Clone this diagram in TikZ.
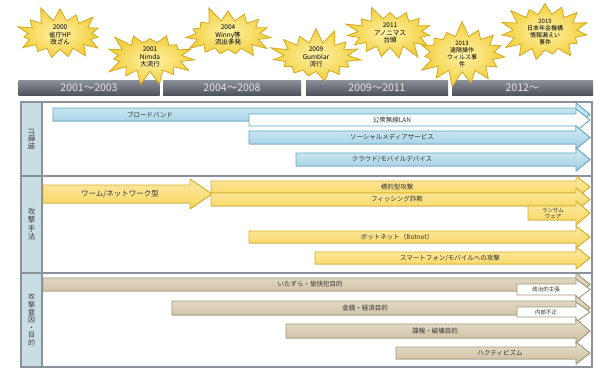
\documentclass[tikz,border=0pt]{standalone}
\usepackage{fontspec}
\setmainfont{Noto Sans CJK JP}
\usetikzlibrary{shapes.symbols}
\definecolor{frameg}{HTML}{8C929B}
\definecolor{lblcol}{HTML}{C9DDE5}
\definecolor{bluef}{HTML}{9FCEE2}
\definecolor{bluel}{HTML}{D4ECF5}
\definecolor{blued}{HTML}{5FA8C6}
\definecolor{yelf}{HTML}{F7D55C}
\definecolor{yell}{HTML}{FDEBA8}
\definecolor{yeld}{HTML}{D5AE25}
\definecolor{tanf}{HTML}{CBBE9F}
\definecolor{tanl}{HTML}{E8DFCC}
\definecolor{tand}{HTML}{A3967A}
\definecolor{bardark}{HTML}{4F535B}
\definecolor{barlight}{HTML}{8D9199}
\definecolor{starf}{HTML}{F3CF3F}
\definecolor{starl}{HTML}{FFF2A8}
\definecolor{stard}{HTML}{D2A91C}
\tikzset{
  bluearr/.style={draw=blued, line width=0.9pt, top color=bluel, bottom color=bluef},
  whitearr/.style={draw=blued, line width=0.9pt, fill=white},
  yelarr/.style={draw=yeld, line width=0.9pt, top color=yell, bottom color=yelf},
  tanarr/.style={draw=tand, line width=0.9pt, top color=tanl, bottom color=tanf},
  tanwhite/.style={draw=tand, line width=0.9pt, fill=white},
  lbl/.style={font=\fontsize{6.5}{7}\selectfont, text=black!80, inner sep=0pt},
  sublbl/.style={font=\fontsize{5.5}{6}\selectfont, text=black!80, inner sep=0pt, align=center},
  yearbar/.style={draw=none, top color=barlight, bottom color=bardark, minimum height=15pt, inner sep=0pt,
     text=white!90!black, font=\fontsize{10.5}{11}\selectfont},
  burst/.style={starburst, starburst points=15, starburst point height=16pt,
     minimum width=96pt, minimum height=56pt, inner sep=0pt,
     draw=stard, line width=0.8pt, inner color=starl, outer color=starf,
     align=center, font=\fontsize{6.5}{7.5}\selectfont, text=black},
  seclbl/.style={font=\fontsize{7.5}{8.5}\selectfont, text=black!75, align=center, inner sep=0pt}
}
% style, x1, ytop, ybot, name, label x, label
\newcommand\harr[7]{%
  \pgfmathsetmacro\ym{(#3+#4)/2}%
  \filldraw[#1] (#2,#3) -- (576,#3) -- (576,#3-5) -- (590,\ym) -- (576,#4+5) -- (576,#4) -- (#2,#4) -- cycle;
  \node[lbl] (#5) at (#6,\ym) {#7};%
}
\begin{document}
\begin{tikzpicture}[x=1pt,y=-1pt]
\useasboundingbox (0,0) rectangle (604,369);
\fill[white] (0,0) rectangle (604,369);

% year bars
\node[yearbar, minimum width=141pt] (y1) at (89,87.5) {2001〜2003};
\node[yearbar, minimum width=138pt] (y2) at (232,87.5) {2004〜2008};
\node[yearbar, minimum width=142pt] (y3) at (377,87.5) {2009〜2011};
\node[yearbar, minimum width=141pt] (y4) at (522.5,87.5) {2012〜};

% frame
\fill[lblcol] (21,102) rectangle (42,367);
\draw[frameg, line width=1.4pt] (21,102) rectangle (592,367);
\draw[frameg, line width=1.2pt] (42,102) -- (42,367);
\draw[frameg, line width=2pt] (21,176) -- (592,176);
\draw[frameg, line width=2pt] (21,273) -- (592,273);

\node[seclbl, rotate=-90] (s1) at (31.5,139) {IT環境};
\node[seclbl] (s2) at (31.5,224) {攻\\撃\\手\\法};
\node[seclbl, font=\fontsize{7}{7.6}\selectfont] (s3) at (31.5,320) {攻\\撃\\要\\因\\・\\目\\的};

% IT environment
\harr{bluearr}{53}{108}{121}{bb}{150}{ブロードバンド}
\harr{whitearr}{249}{114}{126}{wlan}{392}{公衆無線LAN}
\harr{bluearr}{249}{131}{144}{sns}{392}{ソーシャルメディアサービス}
\harr{bluearr}{296}{153}{166}{cloud}{392}{クラウド/モバイルデバイス}

% attack methods
\filldraw[yelarr] (43,185) -- (190,185) -- (190,179) -- (212,194) -- (190,209) -- (190,203) -- (43,203) -- cycle;
\node[lbl, font=\fontsize{7.5}{8}\selectfont] (worm) at (120,194) {ワーム/ネットワーク型};
\harr{yelarr}{211}{181}{193}{apt}{397}{標的型攻撃}
\harr{yelarr}{211}{193}{206}{phish}{397}{フィッシング詐欺}
\harr{yelarr}{528}{206}{220}{ransom}{553}{}
\node[sublbl] (ransomt) at (553,213) {ランサム\\ウェア};
\harr{yelarr}{249}{231}{243}{bot}{397}{ボットネット（Botnet）}
\harr{yelarr}{315}{252}{264}{smart}{450}{スマートフォン/モバイルへの攻撃}

% motives
\harr{tanarr}{43}{278}{291}{prank}{310}{いたずら・愉快犯目的}
\harr{tanwhite}{517}{284}{295}{pol}{546}{}
\node[sublbl] (polt) at (546,289.5) {政治的主張};
\harr{tanarr}{172}{301}{315}{money}{365}{金銭・経済目的}
\harr{tanwhite}{517}{307}{317}{insider}{546}{}
\node[sublbl] (inst) at (546,312) {内部不正};
\harr{tanarr}{286}{324}{338}{spy}{435}{諜報・破壊目的}
\harr{tanarr}{396}{347}{359}{hack}{500}{ハクティビズム}

% events
\node[burst, random starburst=11] (e1) at (60,35) {2000\\省庁HP\\改ざん};
\node[burst, random starburst=23] (e2) at (150,57) {2001\\Nimda\\大流行};
\node[burst, random starburst=5] (e3) at (228,35) {2004\\Winny等\\流出多発};
\node[burst, random starburst=17] (e4) at (316,57) {2009\\Gumblar\\流行};
\node[burst, random starburst=29] (e5) at (390,33) {2011\\アノニマス\\台頭};
\node[burst, random starburst=7, font=\fontsize{6}{6.8}\selectfont] (e6) at (462,54) {2013\\遠隔操作\\ウィルス事\\件};
\node[burst, random starburst=41, font=\fontsize{6}{6.8}\selectfont] (e7) at (545,32) {2015\\日本年金機構\\情報漏えい\\事件};
\end{tikzpicture}
\end{document}
